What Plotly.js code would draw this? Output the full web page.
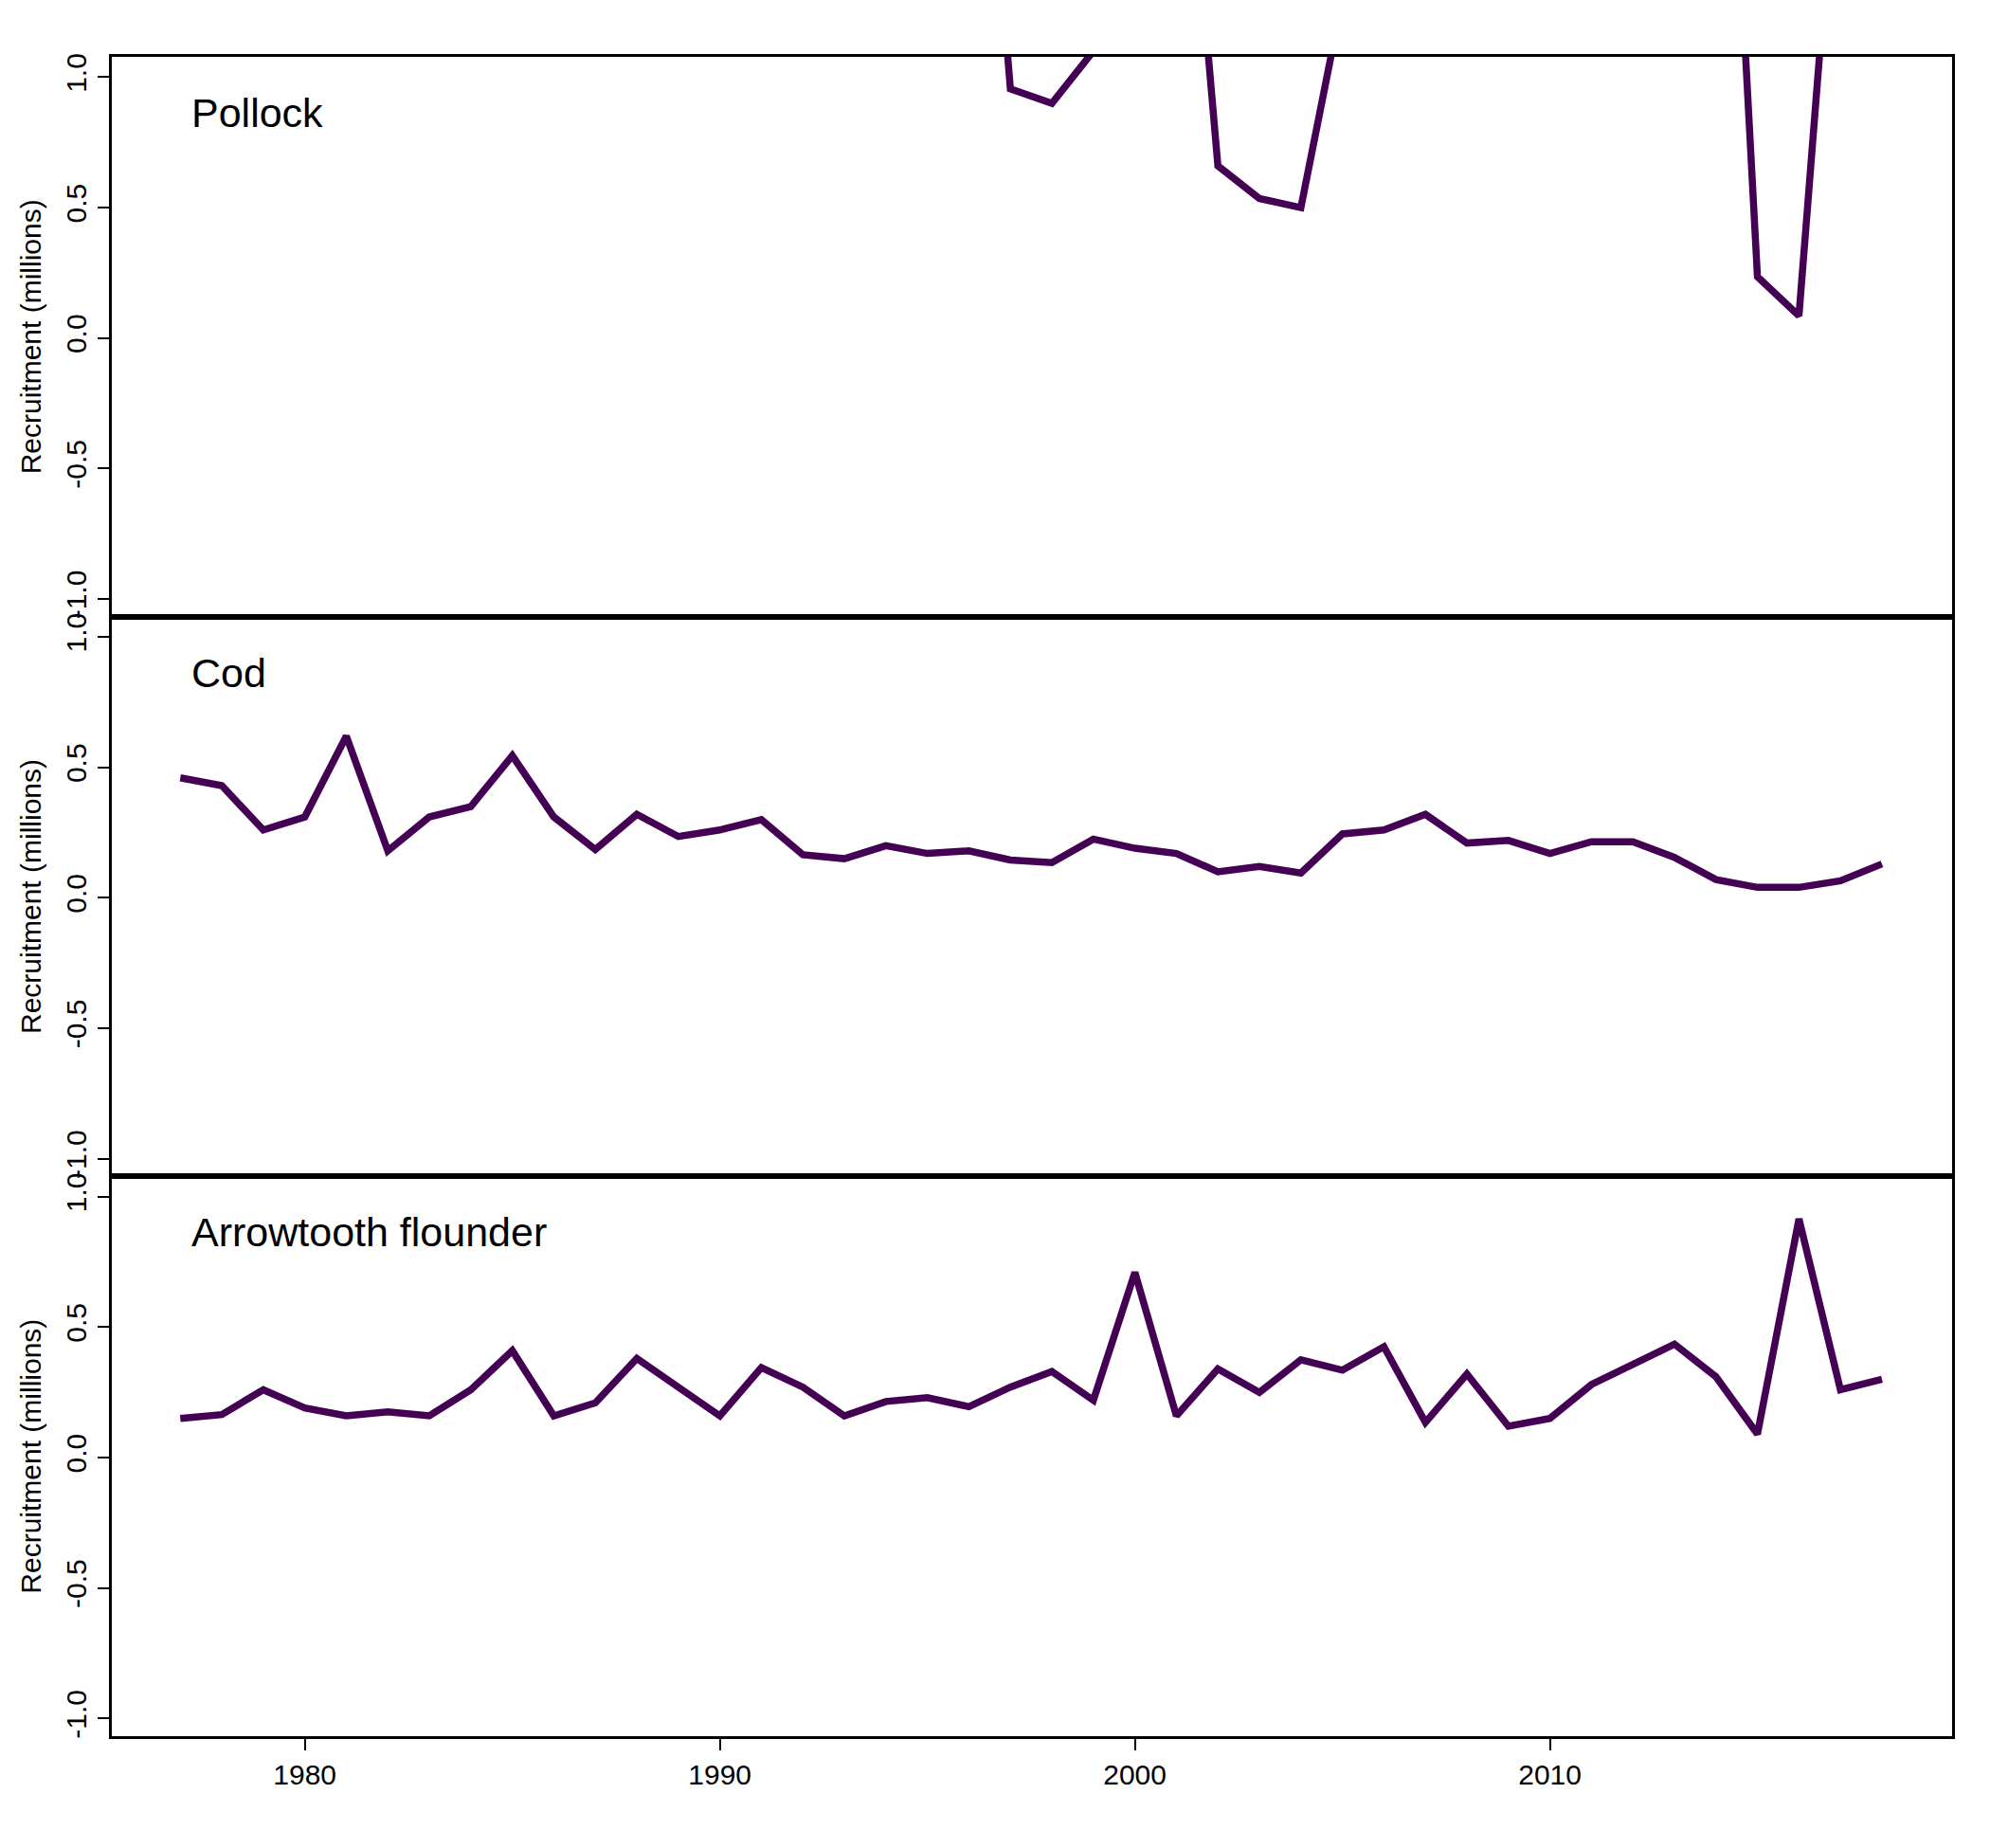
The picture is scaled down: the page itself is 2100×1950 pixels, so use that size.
<!DOCTYPE html>
<html>
<head>
<script src="https://cdn.plot.ly/plotly-3.0.1.min.js"></script>
<style>body{margin:0;background:#fff}</style>
</head>
<body>
<div id="myDiv" style="width:2100px;height:1950px"></div>
<script>
var years = [];
for (var y = 1977; y <= 2018; y++) years.push(y);

var pollock = [2.1, 1.6, 2.3, 1.8, 2.6, 2.2, 1.9, 2.0, 2.4, 1.7, 1.9, 2.2, 1.8, 1.9, 2.0, 2.4, 2.2, 1.7, 1.8, 2.9, 0.955, 0.90, 1.1, 1.9, 2.5,
  0.66, 0.535, 0.50, 1.29, 2.1, 2.3, 1.9, 2.0, 2.4, 1.8, 2.6, 2.9, 3.2, 0.235, 0.085, 2.1, 1.9];
var cod = [0.46, 0.43, 0.26, 0.31, 0.62, 0.18, 0.31, 0.35, 0.545, 0.31, 0.185, 0.32, 0.235, 0.26, 0.30, 0.165, 0.15, 0.20, 0.17, 0.18,
  0.145, 0.135, 0.225, 0.19, 0.17, 0.10, 0.12, 0.095, 0.245, 0.26, 0.32, 0.21, 0.22, 0.17, 0.215, 0.215, 0.155, 0.07, 0.04, 0.04, 0.065, 0.13];
var arrowtooth = [0.15, 0.165, 0.26, 0.19, 0.16, 0.175, 0.16, 0.26, 0.41, 0.16, 0.21, 0.38, 0.27, 0.16, 0.345, 0.27, 0.16, 0.215, 0.23, 0.195,
  0.27, 0.33, 0.22, 0.71, 0.16, 0.34, 0.25, 0.375, 0.335, 0.425, 0.135, 0.32, 0.12, 0.15, 0.28, 0.36, 0.435, 0.31, 0.09, 0.915, 0.26, 0.30];
var species = ['Pollock', 'Cod', 'Arrowtooth flounder'];
var yTicks = [-1, -0.5, 0, 0.5, 1];
var yTickText = ['-1.0', '-0.5', '0.0', '0.5', '1.0'];
var xTicks = [1980, 1990, 2000, 2010];

var col = '#440154';
var series = [pollock, cod, arrowtooth];
var data = [];
var layout = {
  width: 2100, height: 1950,
  margin: {l: 118, r: 40, t: 60, b: 118},
  showlegend: false,
  paper_bgcolor: '#fff', plot_bgcolor: '#fff',
  font: {family: 'Liberation Sans, Arial, sans-serif', color: '#000', size: 30},
  annotations: []
};
var domains = [[2/3, 1], [1/3, 2/3], [0, 1/3]];
for (var i = 0; i < 3; i++) {
  var n = i === 0 ? '' : String(i + 1);
  data.push({type: 'scatter', mode: 'lines', x: years, y: series[i],
    xaxis: 'x' + n, yaxis: 'y' + n, line: {color: col, width: 7.5}});
  layout['xaxis' + n] = {
    range: [1975.35, 2019.69], domain: [0, 1], anchor: 'y' + n,
    showgrid: false, zeroline: false, showline: true, mirror: true,
    linecolor: '#000', linewidth: 2.5,
    tickvals: i === 2 ? xTicks : [], ticks: i === 2 ? 'outside' : '',
    ticklen: 12, tickwidth: 2, tickcolor: '#000',
    tickfont: {size: 30}, showticklabels: i === 2
  };
  if (i > 0) layout['xaxis' + n].matches = 'x';
  layout['yaxis' + n] = {
    range: [-1.068, 1.078], domain: domains[i], anchor: 'x' + n,
    showgrid: false, zeroline: false, showline: true, mirror: true,
    linecolor: '#000', linewidth: 2.5,
    tickvals: yTicks, ticktext: yTickText, ticks: 'outside',
    ticklen: 12, tickwidth: 2, tickcolor: '#000', tickangle: -90,
    tickfont: {size: 30},
    title: {text: 'Recruitment (millions)', font: {size: 30}, standoff: 12}
  };
  layout.annotations.push({
    text: species[i], xref: 'x' + n + ' domain', yref: 'y' + n + ' domain',
    x: 0.042, y: 0.90, xanchor: 'left', yanchor: 'middle', showarrow: false,
    font: {size: 43, color: '#000'}
  });
}

Plotly.newPlot('myDiv', data, layout, {displayModeBar: false});
</script>
</body>
</html>
